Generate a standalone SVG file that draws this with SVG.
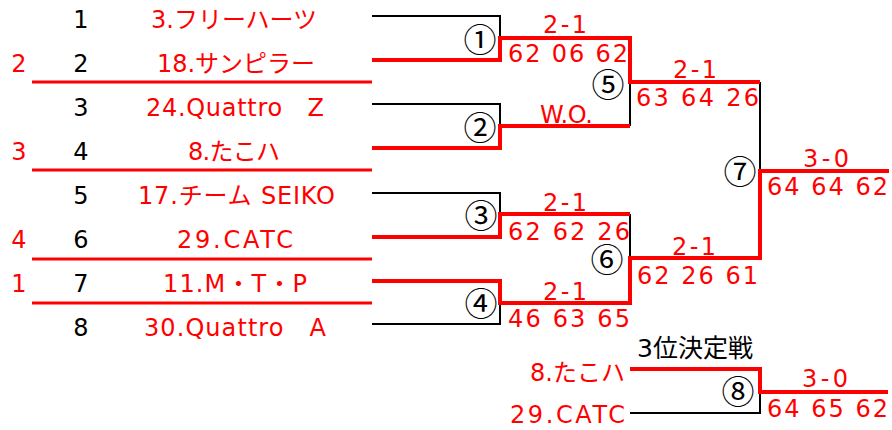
<svg xmlns="http://www.w3.org/2000/svg" width="892" height="430" viewBox="0 0 892 430">
<style>
text{font-family:"DejaVu Sans","Noto Sans CJK JP",sans-serif;font-size:24px}
.red{fill:#ff0000}
.blk{fill:#000}
.mid{text-anchor:middle}
.end{text-anchor:end}
.circ{font-family:"Noto Sans CJK JP",sans-serif;font-size:33px;text-anchor:middle;fill:#000}
.k{stroke:#000;stroke-width:2;fill:none}
.r{stroke:#ff0000;stroke-width:4;fill:none}
.sep{stroke:#ff0000;stroke-width:3;fill:none}
</style>
<rect width="892" height="430" fill="#fff"/>
<g id="connectors">
  <path class="k" d="M372,16 H500 V38"/>
  <path class="k" d="M372,104 H500 V126"/>
  <path class="k" d="M372,193 H500 V214"/>
  <path class="k" d="M500,303 V324 H372"/>
  <path class="k" d="M630,82 V126"/>
  <path class="k" d="M630,214 V258"/>
  <path class="k" d="M760,82 V171"/>
  <path class="k" d="M630,413 H760 V392"/>
  <path class="r" d="M372,60 H500 V38 H630 V82 H760"/>
  <path class="r" d="M372,148 H500 V126 H630"/>
  <path class="r" d="M372,237 H500 V214 H630"/>
  <path class="r" d="M372,281 H500 V303 H630 V258 H760 V171 H889"/>
  <path class="r" d="M630,369 H760 V392 H888"/>
  <path class="sep" d="M32,82 H372 M32,170 H372 M32,259 H372 M32,303 H372"/>
</g>
<g id="entries">
  <g id="entry1"><text class="blk mid" x="81" y="28">1</text><text class="red" x="151" y="28" textLength="166" lengthAdjust="spacing">3.フリーハーツ</text></g>
  <g id="entry2"><text class="red mid" x="19" y="72">2</text><text class="blk mid" x="81" y="72">2</text><text class="red" x="157" y="72" textLength="158" lengthAdjust="spacing">18.サンピラー</text></g>
  <g id="entry3"><text class="blk mid" x="81" y="116">3</text><text class="red" x="146" y="116" textLength="178" lengthAdjust="spacing">24.Quattro　Z</text></g>
  <g id="entry4"><text class="red mid" x="19" y="160">3</text><text class="blk mid" x="81" y="160">4</text><text class="red" x="188" y="160" textLength="92" lengthAdjust="spacing">8.たこハ</text></g>
  <g id="entry5"><text class="blk mid" x="81" y="204">5</text><text class="red" x="138" y="204" textLength="197" lengthAdjust="spacing">17.チーム SEIKO</text></g>
  <g id="entry6"><text class="red mid" x="19" y="248">4</text><text class="blk mid" x="81" y="248">6</text><text class="red" x="177" y="248" textLength="116" lengthAdjust="spacing">29.CATC</text></g>
  <g id="entry7"><text class="red mid" x="19" y="292">1</text><text class="blk mid" x="81" y="292">7</text><text class="red" x="163" y="292" textLength="144" lengthAdjust="spacing">11.M・T・P</text></g>
  <g id="entry8"><text class="blk mid" x="81" y="336">8</text><text class="red" x="144" y="336" textLength="182" lengthAdjust="spacing">30.Quattro　A</text></g>
</g>
<g id="match1"><text class="circ" x="480" y="52">①</text><text class="red" x="543" y="33" textLength="44" lengthAdjust="spacing">2-1</text><text class="red" x="508" y="62" textLength="120" lengthAdjust="spacing">62 06 62</text></g>
<g id="match2"><text class="circ" x="480" y="140">②</text><text class="red" x="540" y="123" textLength="53" lengthAdjust="spacing">W.O.</text></g>
<g id="match3"><text class="circ" x="481" y="228">③</text><text class="red" x="543" y="211" textLength="44" lengthAdjust="spacing">2-1</text><text class="red" x="508" y="240" textLength="122" lengthAdjust="spacing">62 62 26</text></g>
<g id="match4"><text class="circ" x="481" y="316">④</text><text class="red" x="543" y="300" textLength="44" lengthAdjust="spacing">2-1</text><text class="red" x="508" y="327" textLength="122" lengthAdjust="spacing">46 63 65</text></g>
<g id="match5"><text class="circ" x="608" y="97">⑤</text><text class="red" x="673" y="78" textLength="44" lengthAdjust="spacing">2-1</text><text class="red" x="636" y="106" textLength="123" lengthAdjust="spacing">63 64 26</text></g>
<g id="match6"><text class="circ" x="607" y="272">⑥</text><text class="red" x="672" y="255" textLength="44" lengthAdjust="spacing">2-1</text><text class="red" x="637" y="284" textLength="121" lengthAdjust="spacing">62 26 61</text></g>
<g id="match7"><text class="circ" x="740" y="184">⑦</text><text class="red" x="803" y="167" textLength="46" lengthAdjust="spacing">3-0</text><text class="red" x="767" y="195" textLength="121" lengthAdjust="spacing">64 64 62</text></g>
<g id="match8"><text class="blk" x="637" y="357" style="font-size:25px">3位決定戦</text><text class="red end" x="625" y="381">8.たこハ</text><text class="red end" x="625" y="423" textLength="115" lengthAdjust="spacing">29.CATC</text><text class="circ" x="738" y="404">⑧</text><text class="red" x="802" y="387" textLength="46" lengthAdjust="spacing">3-0</text><text class="red" x="767" y="417" textLength="121" lengthAdjust="spacing">64 65 62</text></g>
</svg>
